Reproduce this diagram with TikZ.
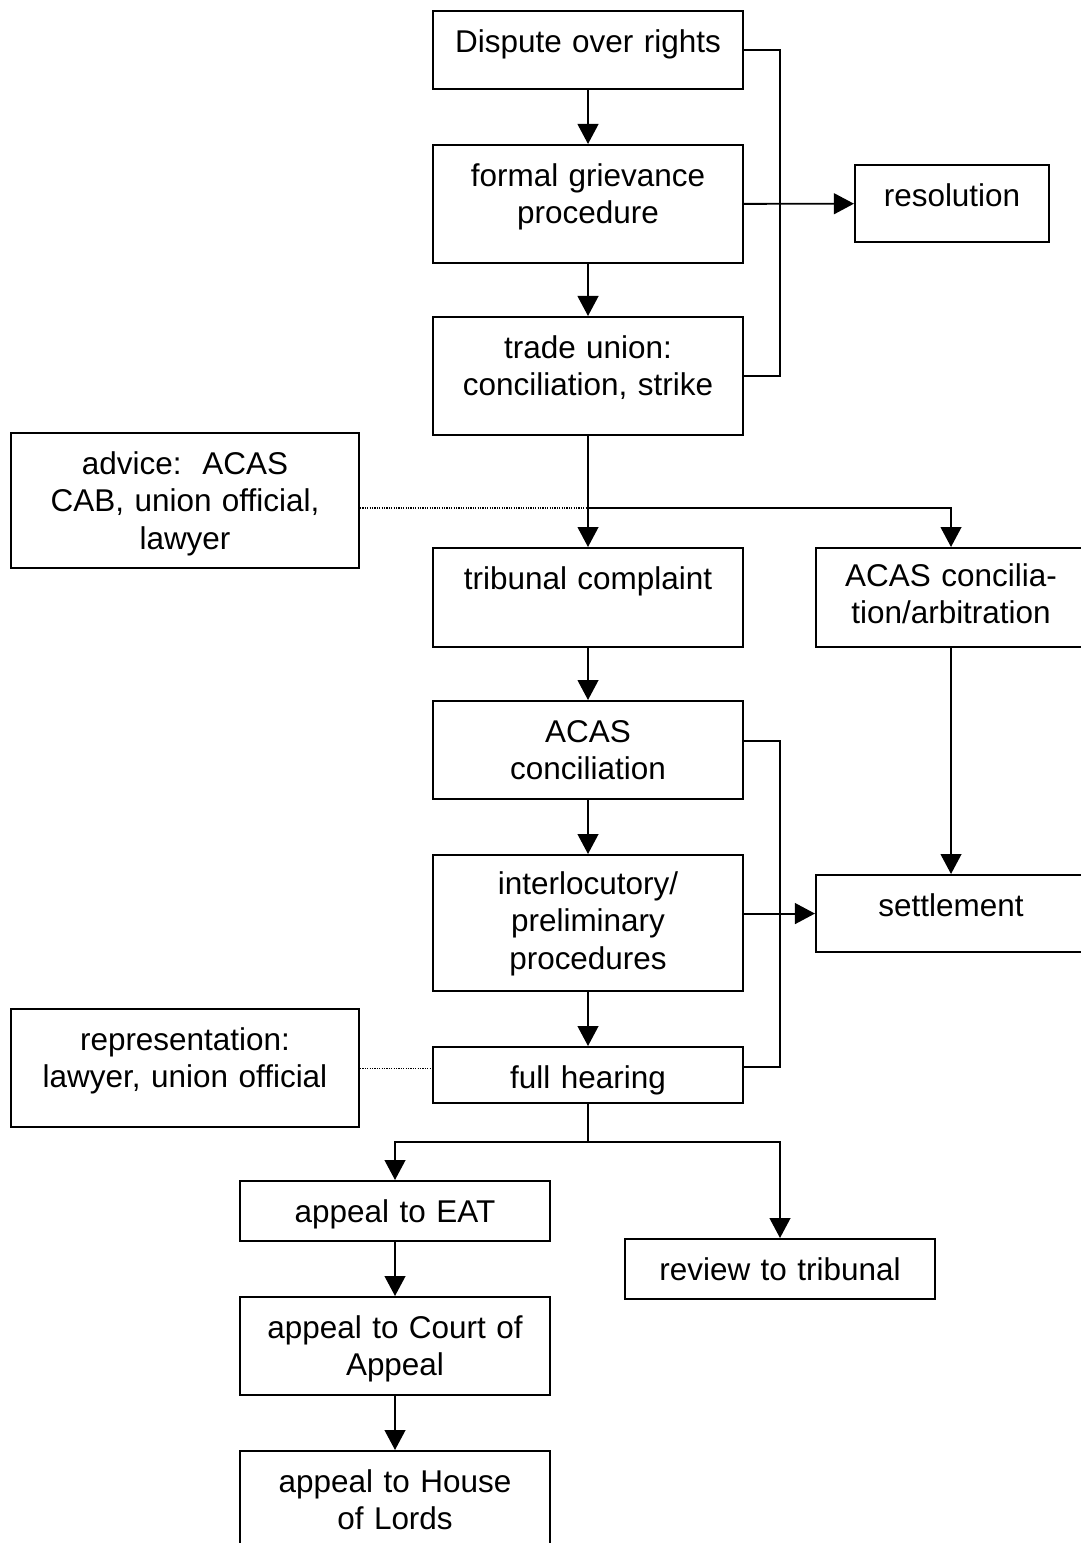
\documentclass[tikz,border=0pt]{standalone}
\usepackage{fontspec}
\setmainfont{Liberation Sans}
\usetikzlibrary{arrows.meta}
\tikzset{>={Triangle[length=7.5pt, width=7.8pt]}}
\tikzset{
    box/.style 2 args={draw, line width=.8pt, inner sep=0pt, anchor=north, align=center,
        text width=#1, text height=15.375pt, text depth=#2},
    link/.style={line width=.7pt},
    hint/.style={line width=.4pt, dash pattern=on .4pt off .5pt},
}

\begin{document}
\begin{tikzpicture}[x=.375pt, y=-.375pt, font=\fontsize{11.8}{14.1}\selectfont]
    \useasboundingbox (0, 0) rectangle (1080, 1543);
    % internal route
    \node[box={116.25pt}{13.875pt}] (dispute) at (588, 10) {Dispute over rights};
    \node[box={116.25pt}{28.875pt}] (grievance) at (588, 144) {formal grievance\\procedure};
    \node[box={116.25pt}{28.875pt}] (union) at (588, 316) {trade union:\\conciliation, strike};
    \node[box={72.75pt}{13.5pt}] (resolution) at (952, 164) {resolution};
    \draw[link, ->] (dispute) -- (grievance);
    \draw[link, ->] (grievance) -- (union);
    \draw[link] (dispute.east) -- ++(36, 0) |- (union.east);
    \draw[link, ->] (grievance) -- (resolution);
    % tribunal route
    \node[box={130.5pt}{35.25pt}] (advice) at (185, 432) {advice:\ \ ACAS\\CAB, union official,\\lawyer};
    \node[box={116.25pt}{21.75pt}] (complaint) at (588, 547) {tribunal complaint};
    \node[box={101.25pt}{22.875pt}, text height=14.25pt] (arbitration) at (951, 547) {ACAS concilia-\\tion/arbitration};
    \node[box={116.25pt}{21.375pt}] (acas) at (588, 700) {ACAS\\conciliation};
    \node[box={116.25pt}{36.375pt}, text height=14.625pt] (interloc) at (588, 854) {interlocutory/\\preliminary\\procedures};
    \node[box={101.25pt}{13.5pt}] (settlement) at (951, 874) {settlement};
    \node[box={116.25pt}{5.625pt}] (hearing) at (588, 1046) {full hearing};
    \node[box={130.5pt}{28.875pt}] (represent) at (185, 1008) {representation:\\lawyer, union official};
    \coordinate (split) at (588, 508);
    \draw[link, ->] (union) -- (complaint);
    \draw[link, ->] (split) -| (arbitration);
    \draw[hint] (advice.east |- split) -- (split);
    \draw[link, ->] (complaint) -- (acas);
    \draw[link, ->] (acas) -- (interloc);
    \draw[link, ->] (interloc) -- (hearing);
    \draw[link] ([yshift=3.4pt]acas.east) -- ++(36, 0) |- ([yshift=3pt]hearing.east);
    \draw[link, ->] (interloc.east |- settlement) -- (settlement);
    \draw[link, ->] (arbitration) -- (settlement);
    \draw[hint] (represent.east) -- (hearing.west |- represent.east);
    % appeals
    \node[box={116.25pt}{7.125pt}] (eat) at (395, 1180) {appeal to EAT};
    \node[box={116.25pt}{7.125pt}] (review) at (780, 1238) {review to tribunal};
    \node[box={116.25pt}{21.375pt}] (court) at (395, 1296) {appeal to Court of\\Appeal};
    \node[box={116.25pt}{21.375pt}] (lords) at (395, 1450) {appeal to House\\of Lords};
    \coordinate (fork) at (588, 1142);
    \draw[link] (hearing) -- (fork);
    \draw[link, ->] (fork) -| (eat);
    \draw[link, ->] (fork) -| (review);
    \draw[link, ->] (eat) -- (court);
    \draw[link, ->] (court) -- (lords);
\end{tikzpicture}
\end{document}
